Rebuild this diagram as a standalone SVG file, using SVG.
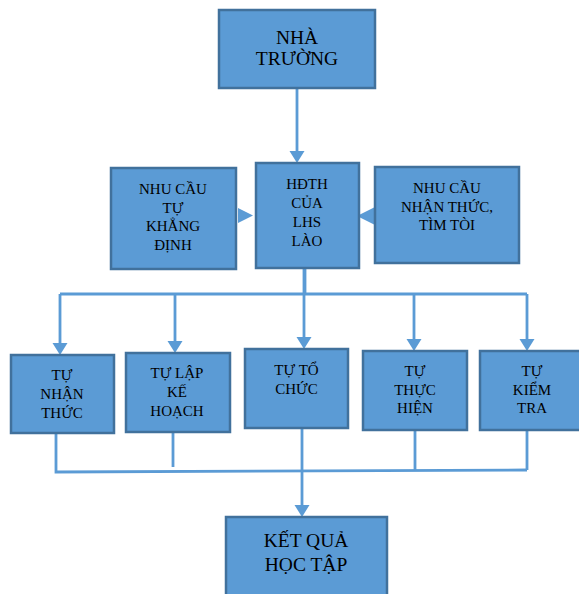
<svg xmlns="http://www.w3.org/2000/svg" width="579" height="594" viewBox="0 0 579 594">
  <style>
    .box { fill: #5B9BD5; stroke: #41719C; stroke-width: 2.5; }
    .lbl { font-family: "Liberation Serif", "Times New Roman", "DejaVu Serif", serif; fill: #000; text-anchor: middle; }
    .big { font-size: 19.5px; }
    .sm { font-size: 15px; }
    .wire { fill: none; stroke: #5B9BD5; stroke-width: 2.8; }
    .head { fill: #5B9BD5; }
  </style>
  <rect width="579" height="594" fill="#ffffff"/>

  <!-- connectors -->
  <g id="connectors">
    <!-- school to activity -->
    <path class="wire" d="M297 89 V152"/>
    <polygon class="head" points="289.5,151 304.5,151 297,163"/>
    <!-- side needs into activity -->
    <polygon class="head" points="238,208 238,223 253,215.5"/>
    <polygon class="head" points="375,207 375,225 357,216"/>
    <!-- activity down to the distribution bus -->
    <path class="wire" d="M305 268 V294"/>
    <path class="wire" d="M60 294 H527"/>
    <path class="wire" d="M60 294 V344"/>
    <path class="wire" d="M175 294 V342"/>
    <path class="wire" d="M304 268 V338"/>
    <path class="wire" d="M414 294 V340"/>
    <path class="wire" d="M527 294 V340"/>
    <polygon class="head" points="52.5,343 67.5,343 60,355"/>
    <polygon class="head" points="167.5,341 182.5,341 175,353"/>
    <polygon class="head" points="296.5,337 311.5,337 304,349"/>
    <polygon class="head" points="406.5,339 421.5,339 414,351"/>
    <polygon class="head" points="519.5,339 534.5,339 527,351"/>
    <!-- collecting bus to results -->
    <path class="wire" d="M56 434 V472 L527 470"/>
    <path class="wire" d="M173 432 V467"/>
    <path class="wire" d="M415 430 V470"/>
    <path class="wire" d="M527 430 V470"/>
    <path class="wire" d="M302 428 V506"/>
    <polygon class="head" points="294.5,505 309.5,505 302,517"/>
  </g>

  <g id="nha-truong">
    <rect class="box" x="219" y="10" width="156" height="78"/>
    <text class="lbl big" x="297" y="44">NHÀ</text>
    <text class="lbl big" x="297" y="65">TRƯỜNG</text>
  </g>

  <g id="hdth">
    <rect class="box" x="256" y="163" width="103" height="105"/>
    <text class="lbl sm" x="307" y="189">HĐTH</text>
    <text class="lbl sm" x="307" y="208">CỦA</text>
    <text class="lbl sm" x="307" y="227">LHS</text>
    <text class="lbl sm" x="307" y="245.5">LÀO</text>
  </g>

  <g id="nhu-cau-khang-dinh">
    <rect class="box" x="111" y="168" width="125" height="101"/>
    <text class="lbl sm" x="173" y="194">NHU CẦU</text>
    <text class="lbl sm" x="173" y="212.5">TỰ</text>
    <text class="lbl sm" x="173" y="231">KHẲNG</text>
    <text class="lbl sm" x="173" y="249.5">ĐỊNH</text>
  </g>

  <g id="nhu-cau-nhan-thuc">
    <rect class="box" x="375" y="167" width="144" height="96"/>
    <text class="lbl sm" x="447" y="192.5">NHU CẦU</text>
    <text class="lbl sm" x="447" y="211.5">NHẬN THỨC,</text>
    <text class="lbl sm" x="447" y="230">TÌM TÒI</text>
  </g>

  <g id="tu-nhan-thuc">
    <rect class="box" x="11" y="355" width="103" height="78"/>
    <text class="lbl sm" x="62" y="380">TỰ</text>
    <text class="lbl sm" x="62" y="399">NHẬN</text>
    <text class="lbl sm" x="62" y="417.5">THỨC</text>
  </g>

  <g id="tu-lap-ke-hoach">
    <rect class="box" x="126" y="353" width="104" height="79"/>
    <text class="lbl sm" x="177" y="378">TỰ LẬP</text>
    <text class="lbl sm" x="177" y="397">KẾ</text>
    <text class="lbl sm" x="177" y="416">HOẠCH</text>
  </g>

  <g id="tu-to-chuc">
    <rect class="box" x="245" y="349" width="103" height="79"/>
    <text class="lbl sm" x="296.5" y="375">TỰ TỔ</text>
    <text class="lbl sm" x="296.5" y="393.5">CHỨC</text>
  </g>

  <g id="tu-thuc-hien">
    <rect class="box" x="363" y="351" width="104" height="79"/>
    <text class="lbl sm" x="415" y="375.5">TỰ</text>
    <text class="lbl sm" x="415" y="394.5">THỰC</text>
    <text class="lbl sm" x="415" y="413">HIỆN</text>
  </g>

  <g id="tu-kiem-tra">
    <rect class="box" x="480" y="351" width="104" height="79"/>
    <text class="lbl sm" x="532" y="375.5">TỰ</text>
    <text class="lbl sm" x="532" y="394.5">KIỂM</text>
    <text class="lbl sm" x="532" y="413">TRA</text>
  </g>

  <g id="ket-qua-hoc-tap">
    <rect class="box" x="226" y="517" width="161" height="82"/>
    <text class="lbl big" x="306" y="547">KẾT QUẢ</text>
    <text class="lbl big" x="306" y="570.5">HỌC TẬP</text>
  </g>
</svg>
